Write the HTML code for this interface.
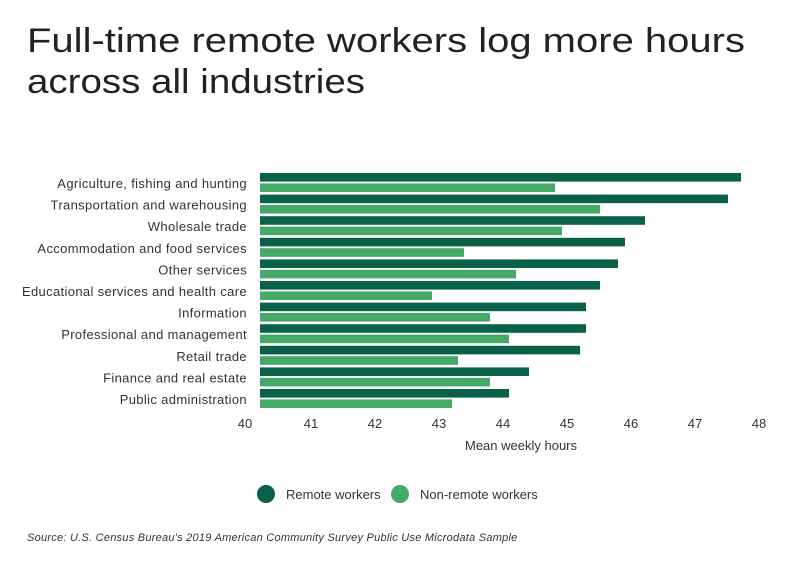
<!DOCTYPE html>
<html><head><meta charset="utf-8"><style>
body{margin:0;background:#fff;}
svg text{font-family:"Liberation Sans",sans-serif;}
</style></head><body>
<svg width="799" height="558" xmlns="http://www.w3.org/2000/svg">
<rect width="799" height="558" fill="#fff"/>
<text x="27" y="52" font-size="34" fill="#222" textLength="718" lengthAdjust="spacingAndGlyphs">Full-time remote workers log more hours</text>
<text x="27" y="93" font-size="34" fill="#222" textLength="338" lengthAdjust="spacingAndGlyphs">across all industries</text>
<g font-size="13" fill="#333" text-anchor="end" letter-spacing="0.35">
<text x="247" y="188">Agriculture, fishing and hunting</text>
<text x="247" y="209.6">Transportation and warehousing</text>
<text x="247" y="231.2">Wholesale trade</text>
<text x="247" y="252.8">Accommodation and food services</text>
<text x="247" y="274.4">Other services</text>
<text x="247" y="296">Educational services and health care</text>
<text x="247" y="317.6">Information</text>
<text x="247" y="339.2">Professional and management</text>
<text x="247" y="360.8">Retail trade</text>
<text x="247" y="382.4">Finance and real estate</text>
<text x="247" y="404">Public administration</text>
</g>
<g font-size="13" fill="#333" text-anchor="middle">
<text x="245" y="428">40</text><text x="311" y="428">41</text><text x="375" y="428">42</text>
<text x="439" y="428">43</text><text x="503" y="428">44</text><text x="567" y="428">45</text>
<text x="631" y="428">46</text><text x="695" y="428">47</text><text x="759" y="428">48</text>
<text x="521" y="450">Mean weekly hours</text>
</g>
<circle cx="266" cy="494" r="9" fill="#09614a"/>
<text x="286" y="499" font-size="13" fill="#333">Remote workers</text>
<circle cx="400" cy="494" r="9" fill="#45aa68"/>
<text x="420" y="499" font-size="13" fill="#333">Non-remote workers</text>
<text x="27" y="541" font-size="11" fill="#333" font-style="italic" letter-spacing="0.25">Source:  U.S. Census Bureau's 2019 American Community Survey Public Use Microdata Sample</text>
<g>
<rect x="260" y="173" width="481" height="8.6" fill="#09614a"/><rect x="260" y="183.4" width="295" height="8.6" fill="#45aa68"/>
<rect x="260" y="194.6" width="468" height="8.6" fill="#09614a"/><rect x="260" y="205" width="340" height="8.6" fill="#45aa68"/>
<rect x="260" y="216.2" width="385" height="8.6" fill="#09614a"/><rect x="260" y="226.6" width="302" height="8.6" fill="#45aa68"/>
<rect x="260" y="237.8" width="365" height="8.6" fill="#09614a"/><rect x="260" y="248.2" width="204" height="8.6" fill="#45aa68"/>
<rect x="260" y="259.4" width="358" height="8.6" fill="#09614a"/><rect x="260" y="269.8" width="256" height="8.6" fill="#45aa68"/>
<rect x="260" y="281" width="340" height="8.6" fill="#09614a"/><rect x="260" y="291.4" width="172" height="8.6" fill="#45aa68"/>
<rect x="260" y="302.6" width="326" height="8.6" fill="#09614a"/><rect x="260" y="313" width="230" height="8.6" fill="#45aa68"/>
<rect x="260" y="324.2" width="326" height="8.6" fill="#09614a"/><rect x="260" y="334.6" width="249" height="8.6" fill="#45aa68"/>
<rect x="260" y="345.8" width="320" height="8.6" fill="#09614a"/><rect x="260" y="356.2" width="198" height="8.6" fill="#45aa68"/>
<rect x="260" y="367.4" width="269" height="8.6" fill="#09614a"/><rect x="260" y="377.8" width="230" height="8.6" fill="#45aa68"/>
<rect x="260" y="389" width="249" height="8.6" fill="#09614a"/><rect x="260" y="399.4" width="192" height="8.6" fill="#45aa68"/>
</g>
</svg>
</body></html>
